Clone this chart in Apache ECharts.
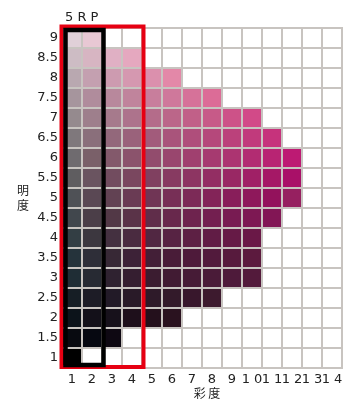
<!DOCTYPE html>
<html><head><meta charset="utf-8">
<script src="https://cdn.jsdelivr.net/npm/echarts@6/dist/echarts.min.js"></script>
<style>html,body{margin:0;padding:0;background:#fff}#c{width:351px;height:399px}</style>
</head><body><div id="c"></div>
<script>
const hueLabel = '5 R P';
const chromaTicks = ['1','2','3','4','5','6','7','8','9','10','11','12','13','14'];
const valueTicks = ['1','1.5','2','2.5','3','3.5','4','4.5','5','5.5','6','6.5','7','7.5','8','8.5','9'];

// cell colours per value row, index = chroma - 1 (missing = empty cell)
const row9  = ['#e0d0d8','#e8c8d4'];
const row85 = ['#cdbcc4','#d7b5c2','#e0b0c4','#e5a8bf'];
const row8  = ['#b9a8b0','#c4a0b0','#cd9bb0','#d598b0','#db90ad','#e388a8'];
const row75 = ['#a6959d','#b08c9c','#b8889c','#c0849c','#c87e9c','#cf789b','#d67299','#dc6c97'];
const row7  = ['#958a8e','#9e7f8c','#a67a8c','#ad738c','#b46c8a','#bb6689','#c16088','#c75a88','#cd5288','#d24a88'];
const row65 = ['#7f787c','#8a6f7b','#93687b','#9a627b','#a25b7b','#a9547b','#af4e7b','#b5487b','#bb417b','#c13a7c','#c6337c'];
const row6  = ['#6f6b6f','#7a6069','#83596b','#8b536c','#924c6d','#99466e','#a0406f','#a63a70','#ac3471','#b22c72','#b82473','#bd1a73'];
const row55 = ['#5f5d60','#6a5460','#724c5f','#7a475f','#804060','#873a61','#8d3562','#932e63','#992864','#a02066','#a51866','#a91068'];
const row5  = ['#4f5156','#5a4854','#624253','#6a3b54','#703555','#772f56','#7c2a57','#832458','#881e5a','#8e185b','#93125c','#962060'];
const row45 = ['#41474d','#4b3e48','#523846','#5a3348','#602d4a','#68284c','#6e234e','#731f50','#781b52','#7d1853','#821655'];
const row4  = ['#333e44','#3c373f','#443040','#4a2b40','#512742','#572343','#5d2044','#611c45','#661a46','#6a1847'];
const row35 = ['#25333b','#2e2e38','#372835','#3d2237','#431f37','#491c38','#4e1a3a','#521a3c','#571a3d','#5c1a3e'];
const row3  = ['#1f2d35','#272a33','#2f2230','#351e30','#3b1c30','#411b33','#461b36','#4a1b38','#4e1a3a','#531a3b'];
const row25 = ['#161e25','#1d1c26','#221a27','#291a28','#2e1a29','#331a2a','#38172c','#3d1a2e'];
const row2  = ['#0c131a','#131019','#17111b','#1e0f1b','#24101c','#2a121f'];
const row15 = ['#080a10','#060811','#0e0812'];
const row1  = ['#000000'];
const rowsByValue = [row1,row15,row2,row25,row3,row35,row4,row45,row5,row55,row6,row65,row7,row75,row8,row85,row9];

// highlight boxes: [fromChromaIdx, toChromaIdx, fromValueIdx, toValueIdx]
const redBox = [0, 3, 0, 16];
const blackBox = [0, 1, 0, 16];

const cells = [];
valueTicks.forEach((v, yi) => {
  chromaTicks.forEach((c, xi) => {
    const col = rowsByValue[yi][xi] || '#ffffff';
    cells.push({ value: [xi, yi], itemStyle: { color: col } });
  });
});

function boxRenderer(color, lw, off) {
  return function (params, api) {
    const s = api.size([1, 1]);
    const tl = api.coord([api.value(0), api.value(3)]);
    const br = api.coord([api.value(1), api.value(2)]);
    const x0 = tl[0] - s[0] / 2 + off[0], y0 = tl[1] - s[1] / 2 + off[1];
    const x1 = br[0] + s[0] / 2 + off[2], y1 = br[1] + s[1] / 2 + off[3];
    return { type: 'rect', shape: { x: x0, y: y0, width: x1 - x0, height: y1 - y0 },
      style: { fill: 'none', stroke: color, lineWidth: lw } };
  };
}

const chart = echarts.init(document.getElementById('c'));
const font = 'DejaVu Sans';
chart.setOption({
  animation: false,
  title: { text: hueLabel, left: 60, top: 6, textStyle: { fontFamily: font, fontSize: 13, fontWeight: 'normal', color: '#222' } },
  grid: { left: 62, right: 9, top: 28, bottom: 31, outerBoundsMode: 'none', containLabel: false },
  xAxis: {
    type: 'category', data: chromaTicks,
    name: '彩 度', nameLocation: 'middle', nameGap: 19, nameMoveOverlap: false,
    nameTextStyle: { fontFamily: 'Noto Sans CJK JP', fontSize: 12, color: '#222', padding: [0, 0, 0, 10] },
    axisLine: { show: false }, axisTick: { show: false }, splitLine: { show: false },
    axisLabel: { margin: 5, fontFamily: font, fontSize: 13, color: '#222', interval: 0,
      formatter: v => v.split('').join(' ') }
  },
  yAxis: {
    type: 'category', data: valueTicks,
    name: '明\n度', nameLocation: 'middle', nameGap: 33, nameRotate: 0, nameMoveOverlap: false,
    nameTextStyle: { fontFamily: 'Noto Sans CJK JP', fontSize: 12, color: '#222', lineHeight: 15, padding: [0, 0, 4, 0] },
    axisLine: { show: false }, axisTick: { show: false }, splitLine: { show: false },
    axisLabel: { margin: 4, fontFamily: font, fontSize: 13, color: '#222', interval: 0 }
  },
  series: [
    {
      type: 'custom', data: cells,
      renderItem: function (params, api) {
        const c = api.coord([api.value(0), api.value(1)]);
        const s = api.size([1, 1]);
        return { type: 'rect', shape: { x: c[0] - s[0] / 2, y: c[1] - s[1] / 2, width: s[0], height: s[1] },
          style: { fill: api.visual('color'), stroke: '#c8c4c0', lineWidth: 2 } };
      }
    },
    { type: 'custom', data: [redBox], renderItem: boxRenderer('#e60012', 4, [-0.5, -1.5, 1.5, -1]), z: 3 },
    { type: 'custom', data: [blackBox], renderItem: boxRenderer('#000000', 4.5, [3.5, 2, 1.5, -3]), z: 4 }
  ]
});
</script>
</body></html>
